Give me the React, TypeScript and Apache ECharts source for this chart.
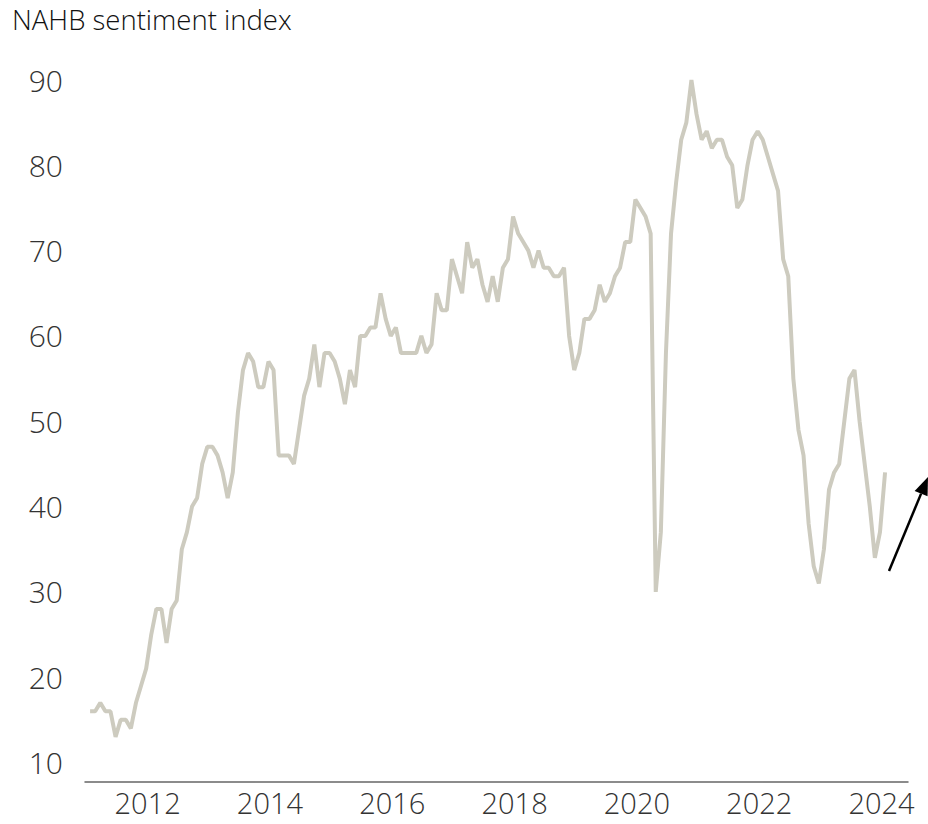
import React, { useEffect, useRef } from "react";
import * as echarts from "echarts";

const startYear = 2011;
const v2011 = [16, 16, 17, 16, 16, 13, 15, 15, 14, 17, 19, 21];
const v2012 = [25, 28, 28, 24, 28, 29, 35, 37, 40, 41, 45, 47];
const v2013 = [47, 46, 44, 41, 44, 51, 56, 58, 57, 54, 54, 57];
const v2014 = [56, 46, 46, 46, 45, 49, 53, 55, 59, 54, 58, 58];
const v2015 = [57, 55, 52, 56, 54, 60, 60, 61, 61, 65, 62, 60];
const v2016 = [61, 58, 58, 58, 58, 60, 58, 59, 65, 63, 63, 69];
const v2017 = [67, 65, 71, 68, 69, 66, 64, 67, 64, 68, 69, 74];
const v2018 = [72, 71, 70, 68, 70, 68, 68, 67, 67, 68, 60, 56];
const v2019 = [58, 62, 62, 63, 66, 64, 65, 67, 68, 71, 71, 76];
const v2020 = [75, 74, 72, 30, 37, 58, 72, 78, 83, 85, 90, 86];
const v2021 = [83, 84, 82, 83, 83, 81, 80, 75, 76, 80, 83, 84];
const v2022 = [83, 81, 79, 77, 69, 67, 55, 49, 46, 38, 33, 31];
const v2023 = [35, 42, 44, 45, 50, 55, 56, 50, 45, 40, 34, 37];
const v2024 = [44];

const yearLabels = [2012, 2014, 2016, 2018, 2020, 2022, 2024];
const yTicks = [10, 20, 30, 40, 50, 60, 70, 80, 90];

const FONT = "'Open Sans', 'Noto Sans', sans-serif";

export default function App() {
  const ref = useRef<HTMLDivElement>(null);
  useEffect(() => {
    document.body.style.margin = "0";
    if (!ref.current) return;
    const chart = echarts.init(ref.current, null, { renderer: "svg" });
    const all = [
      ...v2011, ...v2012, ...v2013, ...v2014, ...v2015, ...v2016, ...v2017,
      ...v2018, ...v2019, ...v2020, ...v2021, ...v2022, ...v2023, ...v2024,
    ];
    const data = all.map((v, i) => [i, v]);
    const labelPos = yearLabels.map((y) => (y - startYear) * 12 - 0.7);

    // arrow geometry
    const tail = [889, 571];
    const tip = [928, 477];
    const dx = tip[0] - tail[0];
    const dy = tip[1] - tail[1];
    const len = Math.sqrt(dx * dx + dy * dy);
    const ux = dx / len;
    const uy = dy / len;
    const headLen = 18;
    const headHalf = 7;
    const bx = tip[0] - headLen * ux;
    const by = tip[1] - headLen * uy;
    const px = -uy;
    const py = ux;

    chart.setOption({
      animation: false,
      textStyle: { fontFamily: FONT },
      grid: { left: 85, right: 20, top: 80, bottom: 61.5, containLabel: false },
      xAxis: {
        type: "value",
        min: -1,
        max: 160.5,
        offset: 19.5,
        splitLine: { show: false },
        axisTick: { show: false },
        axisLine: { show: true, lineStyle: { color: "#666", width: 1.5 } },
        axisLabel: {
          customValues: labelPos,
          formatter: (v: number) => String(startYear + Math.round(v / 12)),
          fontSize: 29,
          lineHeight: 29,
          fontWeight: 350,
          color: "#333",
          fontFamily: FONT,
          margin: 6,
        },
      },
      yAxis: {
        type: "value",
        min: 10,
        max: 90,
        interval: 10,
        splitLine: { show: false },
        axisTick: { show: false },
        axisLine: { show: false },
        axisLabel: {
          customValues: yTicks,
          fontSize: 30,
          fontWeight: 350,
          color: "#333",
          fontFamily: FONT,
          margin: 22,
        },
      },
      series: [
        {
          type: "line",
          data,
          showSymbol: false,
          clip: false,
          lineStyle: { color: "#cdcbbf", width: 4 },
        },
      ],
      graphic: [
        {
          type: "text",
          left: 12,
          top: 5,
          style: {
            text: "NAHB sentiment index",
            fontSize: 27.5,
            fontWeight: 350,
            fill: "#111",
            fontFamily: FONT,
          },
        },
        {
          type: "line",
          shape: { x1: tail[0], y1: tail[1], x2: bx, y2: by },
          style: { stroke: "#000", lineWidth: 2.5 },
        },
        {
          type: "polygon",
          shape: {
            points: [
              [tip[0], tip[1]],
              [bx + headHalf * px, by + headHalf * py],
              [bx - headHalf * px, by - headHalf * py],
            ],
          },
          style: { fill: "#000" },
        },
      ],
    });
    return () => chart.dispose();
  }, []);
  return <div ref={ref} style={{ width: 928, height: 824 }} />;
}
